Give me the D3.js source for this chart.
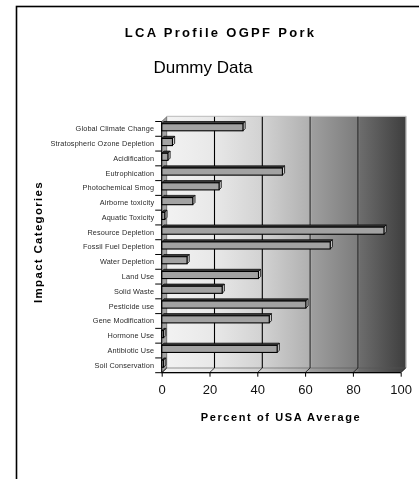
<!DOCTYPE html>
<html>
<head>
<meta charset="utf-8">
<script src="https://cdn.jsdelivr.net/npm/d3@7/dist/d3.min.js"></script>
<style>
  html, body { margin: 0; padding: 0; background: #fff; }
  svg { display: block; font-family: "Liberation Sans", Arial, sans-serif; filter: grayscale(1); }
</style>
</head>
<body>
<svg id="chart" width="419" height="479"></svg>
<script>
// Impact categories, top to bottom
const categories = [
  "Global Climate Change",
  "Stratospheric Ozone Depletion",
  "Acidification",
  "Eutrophication",
  "Photochemical Smog",
  "Airborne toxicity",
  "Aquatic Toxicity",
  "Resource Depletion",
  "Fossil Fuel Depletion",
  "Water Depletion",
  "Land Use",
  "Solid Waste",
  "Pesticide use",
  "Gene Modification",
  "Hormone Use",
  "Antibiotic Use",
  "Soil Conservation"
];

// Percent of USA average for each category
const values = [34, 4.5, 2.6, 50.5, 24, 13, 1.3, 93, 70.5, 10.6, 40.5, 25.3, 60.3, 45, 0.8, 48.3, 0.8];

const xTicks = [0, 20, 40, 60, 80, 100];

const titleText = "LCA Profile OGPF Pork";
const subtitleText = "Dummy Data";
const xTitle = "Percent of USA Average";
const yTitle = "Impact Categories";

const svg = d3.select("#chart");

// frame around the whole chart area
svg.append("rect")
  .attr("x", 16.5).attr("y", 6.5)
  .attr("width", 600).attr("height", 600)
  .attr("fill", "none").attr("stroke", "#000").attr("stroke-width", 1.6);

// plot geometry: front plane and a receding back wall
const plotLeft = 161.7, plotRight = 400.7, plotTop = 121.5, plotBottom = 372.7;
const dx = 5, dy = -4.7;     // depth offset of the back wall

const x = d3.scaleLinear().domain([0, 100]).range([plotLeft, plotRight]);
const y = d3.scaleBand().domain(categories).range([plotTop, plotBottom]).padding(0);

const defs = svg.append("defs");
const grad = defs.append("linearGradient")
  .attr("id", "wallGrad").attr("x1", "0%").attr("x2", "100%").attr("y1", "0%").attr("y2", "0%");
[[0, "#f2f2f2"], [0.2, "#e8e8e8"], [0.4, "#d2d2d2"], [0.6, "#b0b0b0"], [0.61, "#9e9e9e"],
 [0.8, "#7c7c7c"], [0.81, "#6c6c6c"], [1, "#3e3e3e"]]
  .forEach(([o, c]) => grad.append("stop").attr("offset", o).attr("stop-color", c));

// back wall
svg.append("rect")
  .attr("x", plotLeft + dx).attr("y", plotTop + dy)
  .attr("width", plotRight - plotLeft).attr("height", plotBottom - plotTop)
  .attr("fill", "url(#wallGrad)");
// highlight edges of the back wall
svg.append("path")
  .attr("d", `M${plotLeft + dx},${plotTop + dy - 0.5}H${plotRight + dx + 0.5}V${plotBottom + dy}`)
  .attr("fill", "none").attr("stroke", "#b8b8b8").attr("stroke-width", 1);

// floor
svg.append("path")
  .attr("d", `M${plotLeft},${plotBottom}L${plotRight},${plotBottom}L${plotRight + dx},${plotBottom + dy}L${plotLeft + dx},${plotBottom + dy}Z`)
  .attr("fill", "url(#wallGrad)").attr("stroke", "#555").attr("stroke-width", 0.6);

// left side wall
svg.append("path")
  .attr("d", `M${plotLeft},${plotBottom}L${plotLeft},${plotTop}L${plotLeft + dx},${plotTop + dy}L${plotLeft + dx},${plotBottom + dy}Z`)
  .attr("fill", "#a4a4a4").attr("stroke", "#444").attr("stroke-width", 0.6);

// gridlines on the back wall and their lines across the floor
xTicks.filter(t => t > 0 && t < 100).forEach(t => {
  const gx = x(t) + dx;
  svg.append("line")
    .attr("x1", gx).attr("x2", gx).attr("y1", plotTop + dy).attr("y2", plotBottom + dy)
    .attr("stroke", t >= 60 ? "#2a2a2a" : "#000").attr("stroke-width", 1.1);
});
xTicks.forEach(t => {
  svg.append("line")
    .attr("x1", x(t)).attr("y1", plotBottom).attr("x2", x(t) + dx).attr("y2", plotBottom + dy)
    .attr("stroke", "#111").attr("stroke-width", 0.8);
});

// bars drawn as 3D boxes
const depth = 2.2;
const bars = svg.append("g");
categories.forEach((c, i) => {
  const v = values[i];
  const b = y(c);
  const y0 = b + 2.2, y1 = b + 9.3;
  const x0 = x(0), x1 = x(v);
  // top face
  bars.append("path")
    .attr("d", `M${x0},${y0}L${x1},${y0}L${x1 + depth},${y0 - depth}L${x0 + depth},${y0 - depth}Z`)
    .attr("fill", "#3a3a3a").attr("stroke", "#000").attr("stroke-width", 0.7);
  // end face
  bars.append("path")
    .attr("d", `M${x1},${y0}L${x1 + depth},${y0 - depth}L${x1 + depth},${y1 - depth}L${x1},${y1}Z`)
    .attr("fill", "#d0d0d0").attr("stroke", "#000").attr("stroke-width", 0.8);
  // front face
  bars.append("rect")
    .attr("x", x0).attr("y", y0)
    .attr("width", Math.max(0.5, x1 - x0)).attr("height", y1 - y0)
    .attr("fill", "#a2a2a2").attr("stroke", "#000").attr("stroke-width", 1.1);
});

// y axis: line, ticks at category boundaries and labels
svg.append("line")
  .attr("x1", plotLeft).attr("x2", plotLeft).attr("y1", plotTop).attr("y2", plotBottom)
  .attr("stroke", "#000").attr("stroke-width", 1);
const bounds = categories.map(c => y(c)).concat([y.range()[1]]);
svg.append("g").selectAll("line").data(bounds).join("line")
  .attr("x1", plotLeft - 6.5).attr("x2", plotLeft).attr("y1", d => d).attr("y2", d => d)
  .attr("stroke", "#000").attr("stroke-width", 1);

const yAxis = svg.append("g")
  .attr("transform", `translate(${plotLeft - 7.5},0)`)
  .call(d3.axisLeft(y).tickSize(0).tickPadding(0));
yAxis.select(".domain").remove();
yAxis.selectAll("text")
  .attr("font-size", 7.3).attr("fill", "#2a2a2a")
  .attr("font-family", "'Liberation Sans', Arial, sans-serif")
  .attr("letter-spacing", 0.15);

// x axis on the front edge of the floor
const xAxis = svg.append("g")
  .attr("transform", `translate(0,${plotBottom})`)
  .call(d3.axisBottom(x).tickValues(xTicks).tickSize(4).tickPadding(0).tickFormat(d3.format("d")));
xAxis.select(".domain").attr("stroke", "#000").attr("stroke-width", 1.2).attr("d", `M${plotLeft},0H${plotRight}`);
xAxis.selectAll(".tick line").attr("stroke", "#000");
xAxis.selectAll("text")
  .attr("y", 21.5).attr("dy", null)
  .attr("font-size", 13).attr("fill", "#111")
  .attr("font-family", "'Liberation Sans', Arial, sans-serif");

// titles
svg.append("text")
  .attr("x", 220.5).attr("y", 36.5).attr("text-anchor", "middle")
  .attr("font-size", 13).attr("font-weight", "bold").attr("letter-spacing", 2.3)
  .text(titleText);
svg.append("text")
  .attr("x", 203).attr("y", 72.5).attr("text-anchor", "middle")
  .attr("font-size", 17)
  .text(subtitleText);
svg.append("text")
  .attr("x", 281).attr("y", 421).attr("text-anchor", "middle")
  .attr("font-size", 11).attr("font-weight", "bold").attr("letter-spacing", 1.6)
  .text(xTitle);
svg.append("text")
  .attr("transform", "translate(42,242) rotate(-90)").attr("text-anchor", "middle")
  .attr("font-size", 11.5).attr("font-weight", "bold").attr("letter-spacing", 1.3)
  .text(yTitle);
</script>
</body>
</html>
